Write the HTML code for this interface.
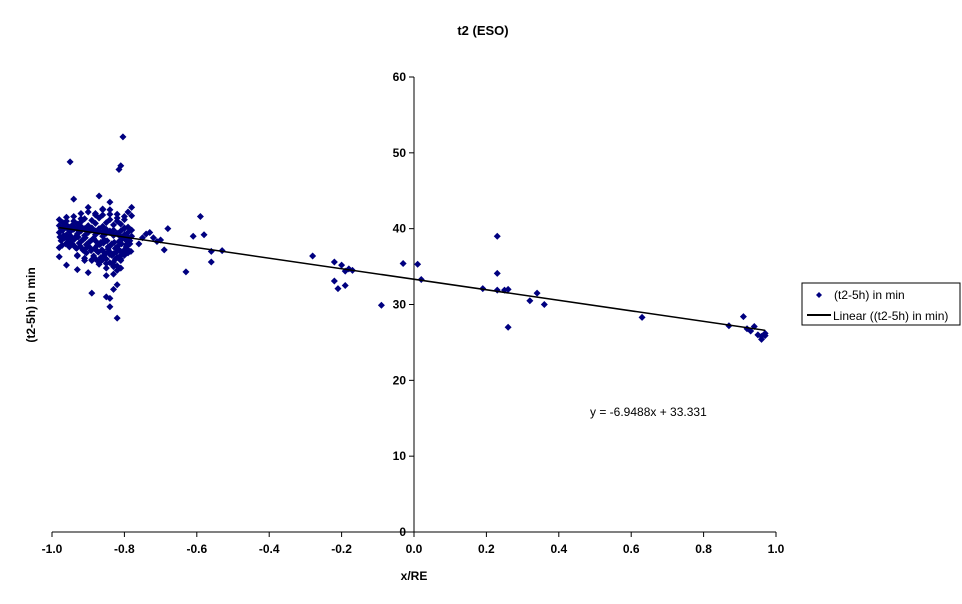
<!DOCTYPE html>
<html><head><meta charset="utf-8"><style>
body{margin:0;background:#fff;font-family:"Liberation Sans",Arial,sans-serif}
svg text{font-family:"Liberation Sans",Arial,sans-serif}
</style></head><body>
<svg width="962" height="599" viewBox="0 0 962 599">
<text x="483" y="35" text-anchor="middle" font-size="13" font-weight="bold">t2 (ESO)</text>
<g id="axes"></g>
<g id="pts"></g>
<g id="trend"></g>
<text x="590" y="416" font-size="12">y = -6.9488x + 33.331</text>
<text x="414" y="580" text-anchor="middle" font-size="12" font-weight="bold">x/RE</text>
<text transform="translate(35,305) rotate(-90)" text-anchor="middle" font-size="12" font-weight="bold">(t2-5h) in min</text>
<g>
<rect x="802" y="283" width="158" height="42" fill="#fff" stroke="#000" stroke-width="1"/>
<path d="M819 292l3 3-3 3-3-3z" fill="#000080"/>
<text x="834" y="299" font-size="12">(t2-5h) in min</text>
<line x1="807" y1="315" x2="831" y2="315" stroke="#000" stroke-width="2"/>
<text x="833" y="320" font-size="12">Linear ((t2-5h) in min)</text>
</g>
</svg>
<script>
const xTicks=[-1.0,-0.8,-0.6,-0.4,-0.2,0.0,0.2,0.4,0.6,0.8,1.0];
const xTickLabels=["-1.0","-0.8","-0.6","-0.4","-0.2","0.0","0.2","0.4","0.6","0.8","1.0"];
const yTicks=[0,10,20,30,40,50,60];
const xs=[-0.95,-0.804,-0.81,-0.815,-0.94,-0.87,-0.84,-0.90,-0.86,-0.82,-0.82,-0.84,-0.89,-0.85,-0.84,-0.83,-0.83,-0.82,-0.81,-0.98,-0.98,-0.96,-0.93,-0.91,
-0.98,-0.97,-0.96,-0.95,-0.94,-0.93,-0.92,-0.91,-0.90,-0.89,-0.88,-0.87,-0.86,-0.85,-0.84,-0.83,-0.82,-0.81,-0.80,-0.79,-0.78,
-0.98,-0.97,-0.96,-0.95,-0.94,-0.93,-0.92,-0.91,-0.90,-0.89,-0.88,-0.87,-0.86,-0.85,-0.84,-0.83,-0.82,-0.81,-0.80,-0.79,-0.78,
-0.975,-0.965,-0.955,-0.945,-0.935,-0.925,-0.915,-0.905,-0.895,-0.885,-0.875,-0.865,-0.855,-0.845,-0.835,-0.825,-0.815,-0.805,-0.795,-0.785,
-0.975,-0.965,-0.955,-0.945,-0.935,-0.925,-0.915,-0.905,-0.895,-0.885,-0.875,-0.865,-0.855,-0.845,-0.835,-0.825,-0.815,-0.805,-0.795,-0.785,
-0.97,-0.95,-0.93,-0.91,-0.89,-0.87,-0.85,-0.83,-0.81,-0.79,-0.88,-0.86,-0.84,-0.82,-0.80,-0.92,-0.90,-0.85,-0.83,-0.79,
-0.98,-0.97,-0.96,-0.95,-0.94,-0.93,-0.92,-0.91,-0.90,-0.89,-0.88,-0.87,-0.86,-0.85,-0.84,-0.83,-0.82,-0.81,-0.80,-0.79,-0.78,
-0.978,-0.968,-0.958,-0.948,-0.938,-0.928,-0.918,-0.908,-0.898,-0.888,-0.878,-0.868,-0.858,-0.848,-0.838,-0.828,-0.818,-0.808,-0.798,-0.788,
-0.972,-0.962,-0.952,-0.942,-0.932,-0.922,-0.912,-0.902,-0.892,-0.882,-0.872,-0.862,-0.852,-0.842,-0.832,-0.822,-0.812,-0.802,-0.792,-0.782,
-0.93,-0.91,-0.89,-0.87,-0.86,-0.85,-0.84,-0.83,-0.82,-0.81,-0.80,-0.88,-0.86,-0.84,-0.83,-0.82,-0.81,-0.80,-0.85,-0.87,
-0.96,-0.94,-0.92,-0.90,-0.88,-0.86,-0.84,-0.82,-0.80,-0.78,
-0.75,-0.74,-0.73,-0.72,-0.70,-0.69,-0.68,-0.63,-0.61,-0.59,-0.58,-0.56,-0.56,-0.53,-0.71,-0.76,
-0.28,-0.22,-0.22,-0.21,-0.20,-0.19,-0.18,-0.17,-0.19,-0.09,-0.03,0.01,0.02,0.19,0.23,0.23,0.23,0.25,0.26,0.26,0.32,0.34,0.36,0.63,0.87,0.91,0.92,0.93,0.94,0.95,0.96,0.96,0.97,0.97];
const ys=[48.8,52.1,48.3,47.8,43.9,44.3,43.5,42.8,42.5,32.6,28.2,29.7,31.5,31.0,30.8,32.0,34.0,34.5,34.8,36.3,37.5,35.2,34.6,35.8,
41.2,40.8,41.5,40.2,41.0,40.6,40.9,41.3,40.4,41.1,40.7,41.4,40.3,40.8,41.2,40.5,41.0,40.6,41.6,42.2,42.8,
39.5,39.8,39.2,39.6,39.9,39.3,39.7,39.1,39.5,39.8,39.2,39.6,39.0,39.4,39.7,39.1,39.3,38.9,39.2,38.8,39.0,
38.4,38.8,38.2,38.6,38.9,38.1,38.5,37.9,38.3,38.7,37.8,38.2,38.5,37.6,38.0,37.4,38.3,38.7,37.9,38.4,
40.0,40.3,39.9,40.4,37.5,40.1,37.2,36.8,37.5,36.4,37.0,36.2,36.8,37.3,36.5,36.0,37.2,36.8,37.6,38.0,
39.0,38.0,36.5,37.0,35.8,35.5,36.0,35.6,37.0,36.8,42.0,41.8,42.5,41.9,40.0,42.0,34.2,33.8,35.0,40.2,
40.4,40.1,40.5,40.0,40.2,39.9,40.3,40.0,39.8,40.1,39.7,40.0,39.6,39.9,39.5,39.8,39.4,39.7,40.1,39.5,39.8,
38.9,39.1,38.7,39.0,38.6,38.9,38.4,38.8,38.2,38.6,38.3,37.9,38.1,38.4,37.8,38.2,37.7,38.0,38.6,38.3,
37.8,38.0,37.6,37.9,37.4,37.7,37.2,37.6,37.1,37.4,36.9,37.2,36.7,37.0,36.6,36.9,36.4,36.8,37.3,37.0,
36.4,36.1,35.9,35.7,36.3,35.4,36.6,35.2,36.2,35.8,36.5,36.0,35.9,35.5,36.7,35.1,36.0,37.2,34.8,35.3,
41.0,41.6,41.3,42.2,41.8,42.6,41.9,41.4,41.2,41.7,
38.8,39.3,39.5,38.8,38.5,37.2,40.0,34.3,39.0,41.6,39.2,37.0,35.6,37.1,38.3,38.0,
36.4,35.6,33.1,32.1,35.2,32.5,34.7,34.5,34.4,29.9,35.4,35.3,33.3,32.1,39.0,34.1,31.9,31.9,32.0,27.0,30.5,31.5,30.0,28.3,27.2,28.4,26.8,26.5,27.1,26.0,25.4,25.8,26.2,25.9];
const slope=-6.9488, intercept=33.331, trendX=[-0.98,0.97];
const NS="http://www.w3.org/2000/svg";
const X0=52,X1=776,Y0=532,Y1=77;
const sx=v=>X0+(v+1)/2*(X1-X0);
const sy=v=>Y0-v/60*(Y0-Y1);
function mk(tag,attrs,parent){const e=document.createElementNS(NS,tag);for(const k in attrs)e.setAttribute(k,attrs[k]);parent.appendChild(e);return e;}
const axes=document.getElementById('axes');
let e=mk('line',{x1:X0,y1:Y0,x2:X1,y2:Y0,stroke:'#000'},axes);


e=mk('line',{x1:sx(0),y1:Y0,x2:sx(0),y2:Y1,stroke:'#000'},axes);


xTicks.forEach((t,i)=>{
  mk('line',{x1:sx(t),y1:Y0,x2:sx(t),y2:Y0+5,stroke:'#000'},axes);
  const tx=mk('text',{x:sx(t),y:Y0+21,'text-anchor':'middle','font-size':'12','font-weight':'bold'},axes);
  tx.textContent=xTickLabels[i];
  
  
});
yTicks.forEach(t=>{
  mk('line',{x1:sx(0)-5,y1:sy(t),x2:sx(0),y2:sy(t),stroke:'#000'},axes);
  const tx=mk('text',{x:sx(0)-8,y:sy(t)+4,'text-anchor':'end','font-size':'12','font-weight':'bold'},axes);
  tx.textContent=String(t);
  
  
});
const pts=document.getElementById('pts');
xs.forEach((x,i)=>{
  const cx=sx(x),cy=sy(ys[i]);
  const p=mk('path',{d:`M${cx} ${cy-3.5}l3.5 3.5-3.5 3.5-3.5-3.5z`,fill:'#000080'},pts);
  
  
});
const tr=document.getElementById('trend');
const l=mk('line',{x1:sx(trendX[0]),y1:sy(slope*trendX[0]+intercept),x2:sx(trendX[1]),y2:sy(slope*trendX[1]+intercept),stroke:'#000','stroke-width':'1.5'},tr);


</script>
</body></html>
